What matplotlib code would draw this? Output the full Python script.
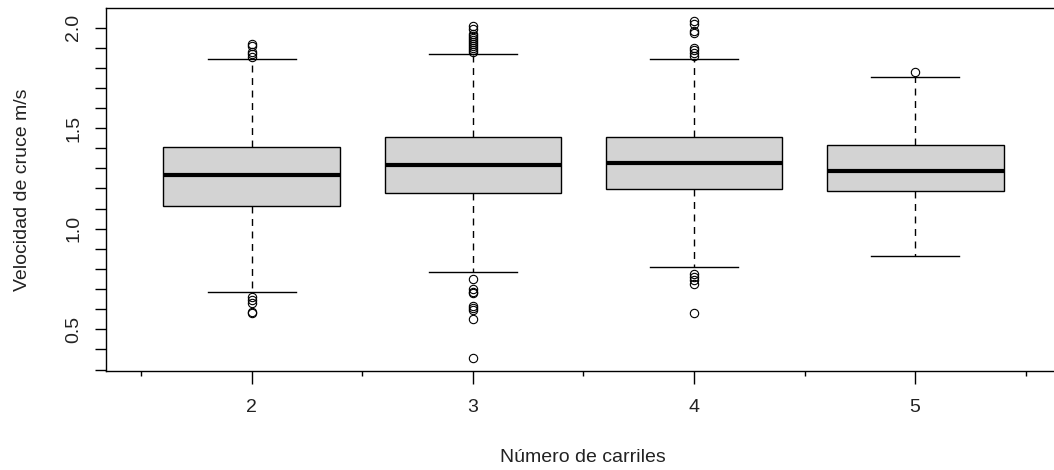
import matplotlib.pyplot as plt
from matplotlib.ticker import FixedLocator, NullFormatter

plt.rcParams['font.family'] = ['Liberation Sans', 'DejaVu Sans']

# number of lanes (group labels)
carriles = [2, 3, 4, 5]

# box statistics for crossing speed (m/s)
q1 = [1.115, 1.18, 1.195, 1.19]
mediana = [1.265, 1.315, 1.325, 1.285]
q3 = [1.405, 1.455, 1.455, 1.415]
bigote_inf = [0.685, 0.785, 0.81, 0.865]
bigote_sup = [1.845, 1.87, 1.845, 1.755]

# outlying observations per group
atipicos = [
    [1.92, 1.91, 1.88, 1.87, 1.855, 0.66, 0.645, 0.63, 0.585, 0.58],
    [2.01, 1.995, 1.97, 1.96, 1.95, 1.94, 1.93, 1.92, 1.91, 1.90, 1.89, 1.88,
     0.75, 0.70, 0.685, 0.68, 0.615, 0.605, 0.595, 0.55, 0.36],
    [2.03, 2.015, 1.985, 1.975, 1.90, 1.89, 1.875, 1.86,
     0.775, 0.76, 0.745, 0.725, 0.58],
    [1.78],
]

stats = []
for i in range(len(carriles)):
    stats.append({
        'med': mediana[i], 'q1': q1[i], 'q3': q3[i],
        'whislo': bigote_inf[i], 'whishi': bigote_sup[i],
        'fliers': atipicos[i],
    })

fig = plt.figure(figsize=(10.54, 4.70), dpi=100)
ax = fig.add_axes([106 / 1054, 1 - 371 / 470, 955 / 1054, 363 / 470])

ax.bxp(stats, positions=carriles, widths=0.8, patch_artist=True,
       boxprops=dict(facecolor='#d3d3d3', edgecolor='black', linewidth=1.0),
       medianprops=dict(color='black', linewidth=3.0, solid_capstyle='butt'),
       whiskerprops=dict(color='black', linewidth=1.0, linestyle=(0, (5, 4))),
       capprops=dict(color='black', linewidth=1.0),
       capwidths=0.4,
       flierprops=dict(marker='o', markerfacecolor='none', markeredgecolor='black',
                       markersize=6, markeredgewidth=0.8))

ax.set_xlim(1.34, 5.66)
ax.set_ylim(0.293, 2.097)

ax.set_xticks(carriles)
ax.set_xticklabels([str(c) for c in carriles])
ax.xaxis.set_minor_locator(FixedLocator([1.5, 2.5, 3.5, 4.5, 5.5]))
ax.xaxis.set_minor_formatter(NullFormatter())
ax.tick_params(axis='x', which='major', length=9, width=1.0, pad=11, labelsize=14,
               labelcolor='#222222')
ax.tick_params(axis='x', which='minor', length=3.6, width=1.0)

ax.set_yticks([0.5, 1.0, 1.5, 2.0])
ax.set_yticklabels(['0.5', '1.0', '1.5', '2.0'], rotation=90, va='center')
ax.yaxis.set_minor_locator(FixedLocator([v / 10 for v in range(3, 21) if v % 5 != 0]))
ax.yaxis.set_minor_formatter(NullFormatter())
ax.tick_params(axis='y', which='both', length=8, width=1.0, pad=9, labelsize=14,
               labelcolor='#222222')

for s in ax.spines.values():
    s.set_linewidth(1.0)

fig.text(583 / 1054, 1 - 458 / 470, 'Número de carriles', ha='center', va='center',
         fontsize=14, color='#222222')
fig.text(23 / 1054, 1 - 190 / 470, 'Velocidad de cruce m/s', ha='center', va='center',
         rotation=90, fontsize=14, color='#222222')

fig.savefig('out.png', dpi=100)
